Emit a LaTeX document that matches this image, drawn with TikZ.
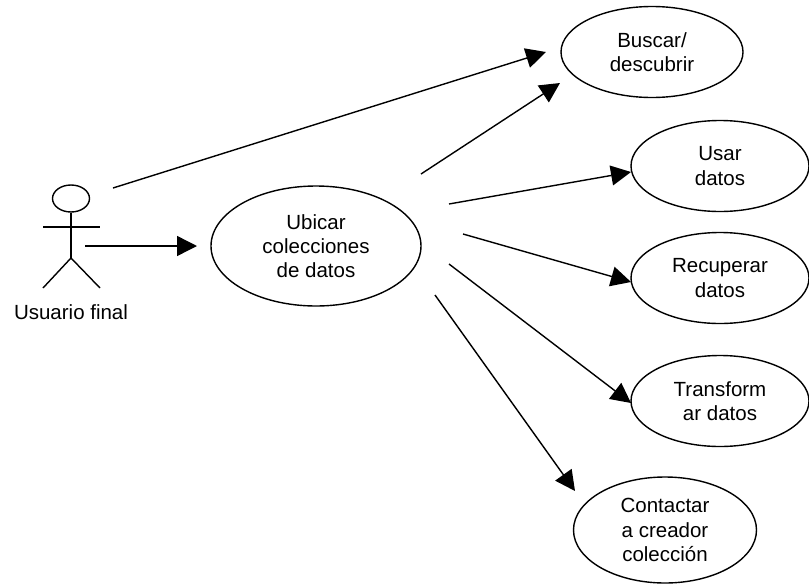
\documentclass[tikz,border=0pt]{standalone}
\usepackage{fontspec}
\setmainfont{Liberation Sans}
\usetikzlibrary{arrows.meta,shapes.geometric}
\tikzset{
  usecase/.style={draw=black,line width=1.4pt,ellipse,inner sep=0pt,align=center,font=\fontsize{20.5}{24.3}\selectfont},
  assoc/.style={draw=black,line width=1.4pt,-{Triangle[length=20pt,width=20pt]}},
  stick/.style={draw=black,line width=1.4pt},
  caption/.style={font=\fontsize{20.5}{24.3}\selectfont,inner sep=0pt}
}
\begin{document}
\begin{tikzpicture}[x=1pt,y=-1pt]
\useasboundingbox (0,0) rectangle (809,584);
\node[usecase,minimum width=210pt,minimum height=120pt] (ubicar) at (316,246) {Ubicar\\colecciones\\de datos};
\node[usecase,minimum width=182pt,minimum height=91pt] (buscar) at (652,52) {Buscar/\\descubrir};
\node[usecase,minimum width=178pt,minimum height=91pt] (usar) at (720,166) {Usar\\datos};
\node[usecase,minimum width=178pt,minimum height=91pt] (recuperar) at (720,278) {Recuperar\\datos};
\node[usecase,minimum width=178pt,minimum height=91pt] (transformar) at (720,401) {Transform\\ar datos};
\node[usecase,minimum width=183pt,minimum height=106pt] (contactar) at (665,530) {Contactar\\a creador\\colección};
% actor
\node[draw=black,line width=1.4pt,ellipse,minimum width=37pt,minimum height=27pt,inner sep=0pt] (cabeza) at (71,198.5) {};
\coordinate (cadera) at (71,258);
\coordinate (brazoi) at (43,227);
\coordinate (brazod) at (100,227);
\coordinate (piei) at (43,288);
\coordinate (pied) at (100,288);
\draw[stick] (cabeza.south) -- (cadera);
\draw[stick] (brazoi) -- (brazod);
\draw[stick] (piei) -- (cadera) -- (pied);
\node[caption] (usuario) at (71,312) {Usuario final};
% connectors
\coordinate (a1) at (113,188);
\coordinate (b1) at (546,52);
\coordinate (a2) at (85,246);
\coordinate (b2) at (197,246);
\coordinate (a3) at (421,174);
\coordinate (b3) at (560,83);
\coordinate (a4) at (449,204);
\coordinate (b4) at (631,172);
\coordinate (a5) at (463,234);
\coordinate (b5) at (631,282);
\coordinate (a6) at (449,264);
\coordinate (b6) at (631,403);
\coordinate (a7) at (435,295);
\coordinate (b7) at (575,491);
\draw[assoc] (a1) -- (b1);
\draw[assoc] (a2) -- (b2);
\draw[assoc] (a3) -- (b3);
\draw[assoc] (a4) -- (b4);
\draw[assoc] (a5) -- (b5);
\draw[assoc] (a6) -- (b6);
\draw[assoc] (a7) -- (b7);
\end{tikzpicture}
\end{document}
